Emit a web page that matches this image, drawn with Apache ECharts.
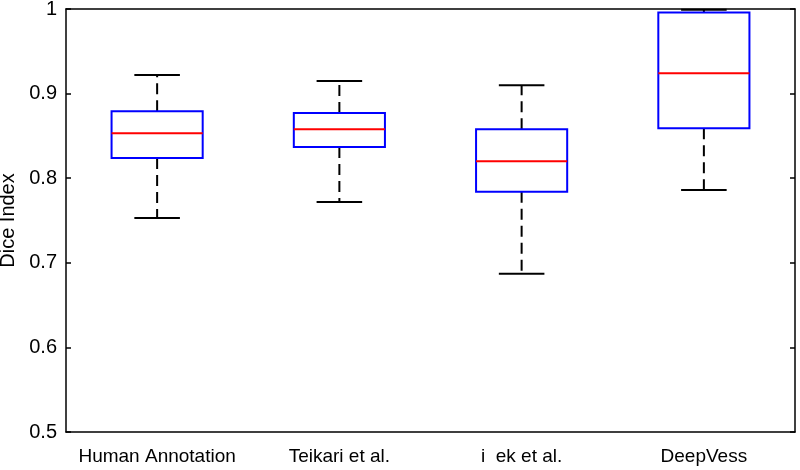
<!DOCTYPE html>
<html>
<head>
<meta charset="utf-8">
<script src="https://cdn.jsdelivr.net/npm/echarts@6/dist/echarts.min.js"></script>
<style>
    html, body { margin: 0; padding: 0; background: #fff; }
    #chart { width: 800px; height: 470px; }
</style>
</head>
<body>
<div id="chart"></div>
<script>
    var categories = ['Human Annotation', 'Teikari et al.', 'i  ek et al.', 'DeepVess'];
    var lowerWhisker = [0.753, 0.772, 0.687, 0.786];
    var q1 = [0.824, 0.837, 0.784, 0.859];
    var medians = [0.853, 0.858, 0.820, 0.924];
    var q3 = [0.879, 0.877, 0.858, 0.996];
    var upperWhisker = [0.922, 0.915, 0.910, 0.999];
    var yTicks = [0.5, 0.6, 0.7, 0.8, 0.9, 1];

    var boxData = categories.map(function (c, i) {
        return [i, lowerWhisker[i], q1[i], medians[i], q3[i], upperWhisker[i]];
    });

    var font = '"Liberation Sans", Arial, sans-serif';

    function renderBox(params, api) {
        var idx = api.value(0);
        var band = api.size([1, 0])[0];
        var half = band * 0.25;
        var capHalf = band * 0.125;
        var pLow = api.coord([idx, api.value(1)]);
        var pQ1 = api.coord([idx, api.value(2)]);
        var pMed = api.coord([idx, api.value(3)]);
        var pQ3 = api.coord([idx, api.value(4)]);
        var pHigh = api.coord([idx, api.value(5)]);
        var x = pMed[0];
        var black = { stroke: '#000', lineWidth: 2 };
        var dashed = { stroke: '#000', lineWidth: 2, lineDash: [11, 6] };
        return {
            type: 'group',
            children: [
                { type: 'line', shape: { x1: x, y1: pQ3[1], x2: x, y2: pHigh[1] }, style: dashed },
                { type: 'line', shape: { x1: x, y1: pQ1[1], x2: x, y2: pLow[1] }, style: dashed },
                { type: 'line', shape: { x1: x - capHalf, y1: pHigh[1], x2: x + capHalf, y2: pHigh[1] }, style: black },
                { type: 'line', shape: { x1: x - capHalf, y1: pLow[1], x2: x + capHalf, y2: pLow[1] }, style: black },
                { type: 'rect', shape: { x: x - half, y: pQ3[1], width: half * 2, height: pQ1[1] - pQ3[1] },
                  style: { fill: '#fff', stroke: '#0000ff', lineWidth: 2 } },
                { type: 'line', shape: { x1: x - half, y1: pMed[1], x2: x + half, y2: pMed[1] },
                  style: { stroke: '#ff0000', lineWidth: 2 } }
            ]
        };
    }

    var chart = echarts.init(document.getElementById('chart'));
    var option = {
        animation: false,
        backgroundColor: '#fff',
        grid: { left: 66, right: 5, top: 9, bottom: 38, containLabel: false, outerBoundsMode: 'none' },
        xAxis: [{
            type: 'category',
            data: categories,
            boundaryGap: true,
            axisLine: { lineStyle: { color: '#000', width: 1.5 } },
            axisTick: { inside: true, alignWithLabel: true, length: 5, lineStyle: { color: '#000', width: 1.5 } },
            axisLabel: { color: '#000', fontSize: 19, fontFamily: font, margin: 15, interval: 0 },
            splitLine: { show: false }
        }, {
            type: 'category',
            position: 'top',
            data: categories,
            axisLine: { lineStyle: { color: '#000', width: 1.5 } },
            axisTick: { show: false },
            axisLabel: { show: false }
        }],
        yAxis: [{
            type: 'value',
            min: 0.5,
            max: 1,
            interval: 0.1,
            name: 'Dice Index',
            nameLocation: 'middle',
            nameGap: 46,
            nameTextStyle: { color: '#000', fontSize: 20, fontFamily: font },
            axisLine: { show: true, lineStyle: { color: '#000', width: 1.5 } },
            axisTick: { show: true, inside: true, length: 5, lineStyle: { color: '#000', width: 1.5 } },
            axisLabel: {
                color: '#000', fontSize: 20, fontFamily: font, margin: 9,
                formatter: function (v) {
                    var t = yTicks.find(function (k) { return Math.abs(k - v) < 1e-6; });
                    return t === undefined ? '' : String(t);
                }
            },
            splitLine: { show: false }
        }, {
            type: 'value',
            position: 'right',
            min: 0.5,
            max: 1,
            interval: 0.1,
            axisLine: { show: true, lineStyle: { color: '#000', width: 1.5 } },
            axisTick: { show: true, inside: true, length: 5, lineStyle: { color: '#000', width: 1.5 } },
            axisLabel: { show: false },
            splitLine: { show: false }
        }],
        series: [{
            type: 'custom',
            renderItem: renderBox,
            encode: { x: 0, y: [1, 2, 3, 4, 5] },
            data: boxData,
            clip: false
        }]
    };
    chart.setOption(option);
</script>
</body>
</html>
